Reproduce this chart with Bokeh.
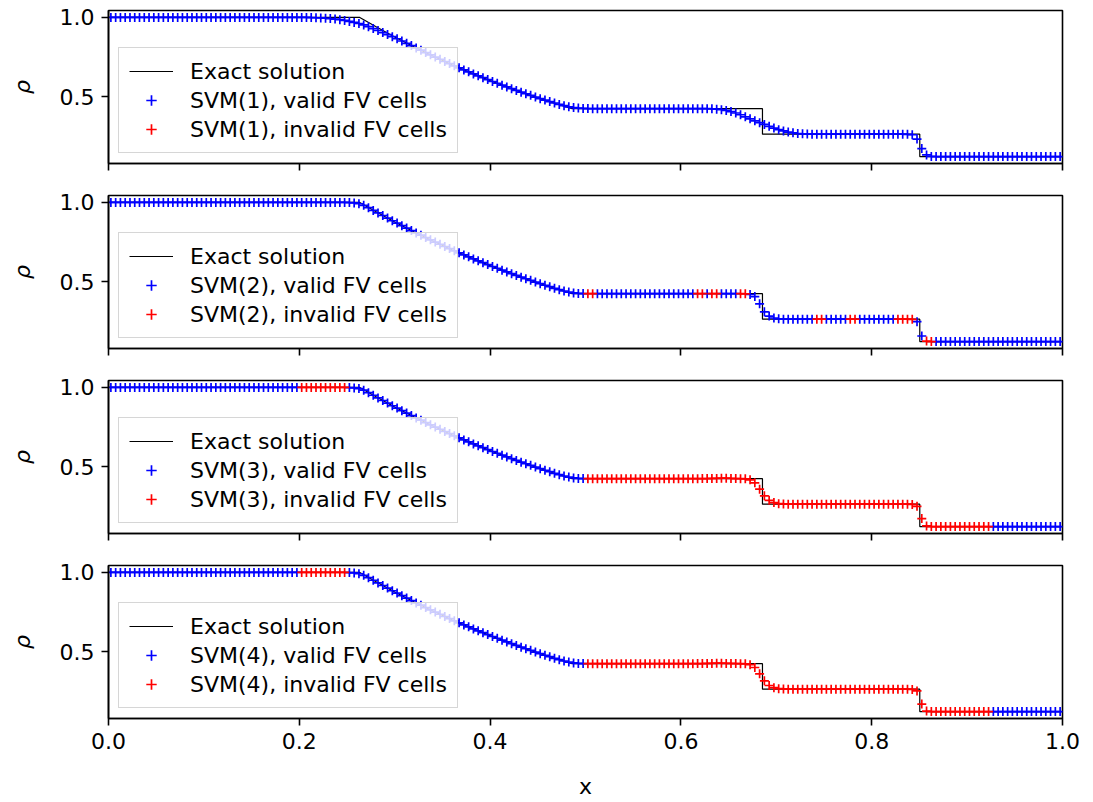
from bokeh.plotting import figure
from bokeh.models import Range1d, FixedTicker, Legend, LegendItem, ColumnDataSource
from bokeh.layouts import column
from bokeh.embed import file_html
from bokeh.resources import INLINE

# ---------------- data ----------------
CELL_X = [
    0.0025, 0.0075, 0.0125, 0.0175, 0.0225, 0.0275, 0.0325, 0.0375, 0.0425, 0.0475,
    0.0525, 0.0575, 0.0625, 0.0675, 0.0725, 0.0775, 0.0825, 0.0875, 0.0925, 0.0975,
    0.1025, 0.1075, 0.1125, 0.1175, 0.1225, 0.1275, 0.1325, 0.1375, 0.1425, 0.1475,
    0.1525, 0.1575, 0.1625, 0.1675, 0.1725, 0.1775, 0.1825, 0.1875, 0.1925, 0.1975,
    0.2025, 0.2075, 0.2125, 0.2175, 0.2225, 0.2275, 0.2325, 0.2375, 0.2425, 0.2475,
    0.2525, 0.2575, 0.2625, 0.2675, 0.2725, 0.2775, 0.2825, 0.2875, 0.2925, 0.2975,
    0.3025, 0.3075, 0.3125, 0.3175, 0.3225, 0.3275, 0.3325, 0.3375, 0.3425, 0.3475,
    0.3525, 0.3575, 0.3625, 0.3675, 0.3725, 0.3775, 0.3825, 0.3875, 0.3925, 0.3975,
    0.4025, 0.4075, 0.4125, 0.4175, 0.4225, 0.4275, 0.4325, 0.4375, 0.4425, 0.4475,
    0.4525, 0.4575, 0.4625, 0.4675, 0.4725, 0.4775, 0.4825, 0.4875, 0.4925, 0.4975,
    0.5025, 0.5075, 0.5125, 0.5175, 0.5225, 0.5275, 0.5325, 0.5375, 0.5425, 0.5475,
    0.5525, 0.5575, 0.5625, 0.5675, 0.5725, 0.5775, 0.5825, 0.5875, 0.5925, 0.5975,
    0.6025, 0.6075, 0.6125, 0.6175, 0.6225, 0.6275, 0.6325, 0.6375, 0.6425, 0.6475,
    0.6525, 0.6575, 0.6625, 0.6675, 0.6725, 0.6775, 0.6825, 0.6875, 0.6925, 0.6975,
    0.7025, 0.7075, 0.7125, 0.7175, 0.7225, 0.7275, 0.7325, 0.7375, 0.7425, 0.7475,
    0.7525, 0.7575, 0.7625, 0.7675, 0.7725, 0.7775, 0.7825, 0.7875, 0.7925, 0.7975,
    0.8025, 0.8075, 0.8125, 0.8175, 0.8225, 0.8275, 0.8325, 0.8375, 0.8425, 0.8475,
    0.8525, 0.8575, 0.8625, 0.8675, 0.8725, 0.8775, 0.8825, 0.8875, 0.8925, 0.8975,
    0.9025, 0.9075, 0.9125, 0.9175, 0.9225, 0.9275, 0.9325, 0.9375, 0.9425, 0.9475,
    0.9525, 0.9575, 0.9625, 0.9675, 0.9725, 0.9775, 0.9825, 0.9875, 0.9925, 0.9975,
]

RHO_SVM1 = [
    1.0, 1.0, 1.0, 1.0, 1.0, 1.0, 1.0, 1.0, 1.0, 1.0,
    1.0, 1.0, 1.0, 1.0, 1.0, 1.0, 1.0, 1.0, 1.0, 1.0,
    1.0, 1.0, 1.0, 1.0, 1.0, 1.0, 1.0, 1.0, 1.0, 1.0,
    1.0, 1.0, 1.0, 1.0, 1.0, 1.0, 1.0, 1.0, 1.0, 1.0,
    1.0, 1.0, 0.999, 0.998, 0.997, 0.995, 0.993, 0.990, 0.986, 0.981,
    0.975, 0.969, 0.962, 0.953, 0.942, 0.930, 0.918, 0.905, 0.892, 0.879,
    0.866, 0.852, 0.837, 0.823, 0.808, 0.794, 0.779, 0.765, 0.751, 0.737,
    0.723, 0.710, 0.696, 0.683, 0.670, 0.658, 0.645, 0.633, 0.621, 0.609,
    0.597, 0.586, 0.574, 0.563, 0.552, 0.541, 0.530, 0.520, 0.510, 0.499,
    0.489, 0.480, 0.471, 0.462, 0.453, 0.445, 0.438, 0.433, 0.430, 0.428,
    0.427, 0.426, 0.426, 0.426, 0.426, 0.426, 0.426, 0.426, 0.426, 0.426,
    0.426, 0.426, 0.426, 0.426, 0.426, 0.426, 0.426, 0.426, 0.426, 0.426,
    0.426, 0.426, 0.426, 0.426, 0.426, 0.426, 0.425, 0.423, 0.420, 0.415,
    0.408, 0.399, 0.388, 0.375, 0.362, 0.350, 0.338, 0.327, 0.315, 0.304,
    0.294, 0.286, 0.279, 0.274, 0.270, 0.268, 0.267, 0.266, 0.266, 0.266,
    0.266, 0.266, 0.266, 0.266, 0.266, 0.266, 0.266, 0.266, 0.266, 0.266,
    0.266, 0.266, 0.266, 0.266, 0.266, 0.266, 0.266, 0.265, 0.262, 0.235,
    0.175, 0.135, 0.126, 0.125, 0.125, 0.125, 0.125, 0.125, 0.125, 0.125,
    0.125, 0.125, 0.125, 0.125, 0.125, 0.125, 0.125, 0.125, 0.125, 0.125,
    0.125, 0.125, 0.125, 0.125, 0.125, 0.125, 0.125, 0.125, 0.125, 0.125,
]

RHO_SVM2 = [
    1.0, 1.0, 1.0, 1.0, 1.0, 1.0, 1.0, 1.0, 1.0, 1.0,
    1.0, 1.0, 1.0, 1.0, 1.0, 1.0, 1.0, 1.0, 1.0, 1.0,
    1.0, 1.0, 1.0, 1.0, 1.0, 1.0, 1.0, 1.0, 1.0, 1.0,
    1.0, 1.0, 1.0, 1.0, 1.0, 1.0, 1.0, 1.0, 1.0, 1.0,
    1.0, 1.0, 1.0, 1.0, 1.0, 1.0, 1.0, 1.0, 1.0, 1.0,
    0.999, 0.997, 0.992, 0.982, 0.967, 0.950, 0.934, 0.918, 0.902, 0.885,
    0.870, 0.854, 0.839, 0.823, 0.808, 0.794, 0.779, 0.765, 0.751, 0.737,
    0.723, 0.710, 0.696, 0.683, 0.670, 0.658, 0.645, 0.633, 0.621, 0.609,
    0.597, 0.586, 0.574, 0.563, 0.552, 0.541, 0.530, 0.520, 0.510, 0.499,
    0.489, 0.479, 0.470, 0.460, 0.451, 0.443, 0.436, 0.431, 0.428, 0.427,
    0.426, 0.426, 0.426, 0.426, 0.426, 0.426, 0.426, 0.426, 0.426, 0.426,
    0.426, 0.426, 0.426, 0.426, 0.426, 0.426, 0.426, 0.426, 0.426, 0.426,
    0.426, 0.426, 0.426, 0.426, 0.426, 0.426, 0.426, 0.426, 0.426, 0.426,
    0.426, 0.426, 0.426, 0.425, 0.421, 0.408, 0.362, 0.312, 0.285, 0.273,
    0.268, 0.266, 0.266, 0.266, 0.266, 0.266, 0.266, 0.266, 0.266, 0.266,
    0.266, 0.266, 0.266, 0.266, 0.266, 0.266, 0.266, 0.266, 0.266, 0.266,
    0.266, 0.266, 0.266, 0.266, 0.266, 0.266, 0.266, 0.266, 0.265, 0.250,
    0.160, 0.128, 0.125, 0.125, 0.125, 0.125, 0.125, 0.125, 0.125, 0.125,
    0.125, 0.125, 0.125, 0.125, 0.125, 0.125, 0.125, 0.125, 0.125, 0.125,
    0.125, 0.125, 0.125, 0.125, 0.125, 0.125, 0.125, 0.125, 0.125, 0.125,
]

RHO_SVM3 = [
    1.0, 1.0, 1.0, 1.0, 1.0, 1.0, 1.0, 1.0, 1.0, 1.0,
    1.0, 1.0, 1.0, 1.0, 1.0, 1.0, 1.0, 1.0, 1.0, 1.0,
    1.0, 1.0, 1.0, 1.0, 1.0, 1.0, 1.0, 1.0, 1.0, 1.0,
    1.0, 1.0, 1.0, 1.0, 1.0, 1.0, 1.0, 1.0, 1.0, 1.0,
    1.0, 1.0, 1.0, 1.0, 1.0, 1.0, 1.0, 1.0, 1.0, 1.0,
    0.999, 0.997, 0.993, 0.983, 0.967, 0.951, 0.934, 0.918, 0.902, 0.885,
    0.870, 0.854, 0.839, 0.823, 0.808, 0.794, 0.779, 0.765, 0.751, 0.737,
    0.723, 0.710, 0.696, 0.683, 0.670, 0.658, 0.645, 0.633, 0.621, 0.609,
    0.597, 0.586, 0.574, 0.563, 0.552, 0.541, 0.530, 0.520, 0.510, 0.499,
    0.489, 0.479, 0.470, 0.460, 0.451, 0.443, 0.436, 0.431, 0.428, 0.427,
    0.426, 0.426, 0.426, 0.426, 0.426, 0.426, 0.426, 0.426, 0.426, 0.426,
    0.426, 0.426, 0.426, 0.426, 0.426, 0.426, 0.426, 0.426, 0.426, 0.426,
    0.426, 0.426, 0.426, 0.426, 0.427, 0.427, 0.428, 0.428, 0.429, 0.429,
    0.428, 0.427, 0.426, 0.425, 0.419, 0.400, 0.360, 0.318, 0.290, 0.276,
    0.269, 0.267, 0.266, 0.266, 0.266, 0.266, 0.266, 0.266, 0.266, 0.266,
    0.266, 0.266, 0.266, 0.266, 0.266, 0.266, 0.266, 0.266, 0.266, 0.266,
    0.266, 0.266, 0.266, 0.266, 0.266, 0.266, 0.266, 0.266, 0.264, 0.252,
    0.175, 0.129, 0.125, 0.125, 0.125, 0.125, 0.125, 0.125, 0.125, 0.125,
    0.125, 0.125, 0.125, 0.125, 0.125, 0.125, 0.125, 0.125, 0.125, 0.125,
    0.125, 0.125, 0.125, 0.125, 0.125, 0.125, 0.125, 0.125, 0.125, 0.125,
]

RHO_SVM4 = [
    1.0, 1.0, 1.0, 1.0, 1.0, 1.0, 1.0, 1.0, 1.0, 1.0,
    1.0, 1.0, 1.0, 1.0, 1.0, 1.0, 1.0, 1.0, 1.0, 1.0,
    1.0, 1.0, 1.0, 1.0, 1.0, 1.0, 1.0, 1.0, 1.0, 1.0,
    1.0, 1.0, 1.0, 1.0, 1.0, 1.0, 1.0, 1.0, 1.0, 1.0,
    1.0, 1.0, 1.0, 1.0, 1.0, 1.0, 1.0, 1.0, 1.0, 1.0,
    0.999, 0.997, 0.992, 0.982, 0.967, 0.951, 0.934, 0.918, 0.902, 0.885,
    0.870, 0.854, 0.839, 0.823, 0.808, 0.794, 0.779, 0.765, 0.751, 0.737,
    0.723, 0.710, 0.696, 0.683, 0.670, 0.658, 0.645, 0.633, 0.621, 0.609,
    0.597, 0.586, 0.574, 0.563, 0.552, 0.541, 0.530, 0.520, 0.510, 0.499,
    0.489, 0.479, 0.470, 0.460, 0.451, 0.443, 0.436, 0.431, 0.428, 0.427,
    0.426, 0.426, 0.426, 0.426, 0.426, 0.426, 0.426, 0.426, 0.426, 0.426,
    0.426, 0.426, 0.426, 0.426, 0.426, 0.426, 0.426, 0.426, 0.426, 0.426,
    0.426, 0.426, 0.426, 0.427, 0.427, 0.428, 0.428, 0.429, 0.429, 0.428,
    0.428, 0.427, 0.426, 0.425, 0.420, 0.402, 0.362, 0.318, 0.289, 0.275,
    0.269, 0.267, 0.266, 0.266, 0.266, 0.266, 0.266, 0.266, 0.266, 0.266,
    0.266, 0.266, 0.266, 0.266, 0.266, 0.266, 0.266, 0.266, 0.266, 0.266,
    0.266, 0.266, 0.266, 0.266, 0.266, 0.266, 0.266, 0.266, 0.264, 0.255,
    0.172, 0.128, 0.125, 0.125, 0.125, 0.125, 0.125, 0.125, 0.125, 0.125,
    0.125, 0.125, 0.125, 0.125, 0.125, 0.125, 0.125, 0.125, 0.125, 0.125,
    0.125, 0.125, 0.125, 0.125, 0.125, 0.125, 0.125, 0.125, 0.125, 0.125,
]

# cell-index spans (inclusive) flagged as invalid FV cells
INVALID_SVM1 = []
INVALID_SVM2 = [(100, 101), (123, 124), (126, 127), (132, 133), (148, 149),
                (155, 156), (165, 168), (171, 172)]
INVALID_SVM3 = [(40, 49), (100, 184)]
INVALID_SVM4 = [(40, 49), (100, 184)]

# exact (Sod) solution polyline
EXACT_X = [0.0, 0.2634, 0.28, 0.30, 0.32, 0.34, 0.36, 0.38, 0.40, 0.42, 0.44,
           0.46, 0.48, 0.4859, 0.6855, 0.6855, 0.8504, 0.8504, 1.0]
EXACT_RHO = [1.0, 1.0, 0.9428, 0.8774, 0.8158, 0.7577, 0.7029, 0.6514, 0.6029,
             0.5574, 0.5146, 0.4745, 0.4370, 0.4263, 0.4263, 0.2656, 0.2656,
             0.125, 0.125]

X_TICKS = [0.0, 0.2, 0.4, 0.6, 0.8, 1.0]
X_TICK_LABELS = ["0.0", "0.2", "0.4", "0.6", "0.8", "1.0"]
Y_TICKS = [0.5, 1.0]
Y_TICK_LABELS = ["0.5", "1.0"]

PANELS = [
    ("1", RHO_SVM1, INVALID_SVM1),
    ("2", RHO_SVM2, INVALID_SVM2),
    ("3", RHO_SVM3, INVALID_SVM3),
    ("4", RHO_SVM4, INVALID_SVM4),
]

FONT = "DejaVu Sans"
NAN = float("nan")


def in_spans(i, spans):
    return any(a <= i <= b for a, b in spans)


def make_panel(order, rho, spans, top, bottom, last):
    p = figure(frame_width=954, frame_height=153,
               min_border_left=108, min_border_right=31,
               min_border_top=top, min_border_bottom=bottom,
               x_range=Range1d(0.0, 1.0), y_range=Range1d(0.08125, 1.04375),
               output_backend="svg", toolbar_location=None,
               background_fill_color="white", border_fill_color="white")
    p.grid.visible = False
    p.outline_line_color = "black"
    p.outline_line_width = 1.6
    p.outline_line_alpha = 1.0

    for ax in (p.xaxis[0], p.yaxis[0]):
        ax.axis_line_width = 1.6
        ax.axis_line_color = "black"
        ax.major_tick_line_width = 1.6
        ax.major_tick_line_color = "black"
        ax.major_tick_out = 7
        ax.major_tick_in = 0
        ax.minor_tick_out = 0
        ax.minor_tick_in = 0
        ax.major_label_text_font = FONT
        ax.major_label_text_font_size = "22px"
        ax.major_label_text_color = "black"
        ax.major_label_standoff = 7

    xa = p.xaxis[0]
    xa.ticker = FixedTicker(ticks=X_TICKS)
    if last:
        xa.major_label_overrides = {t: l for t, l in zip(X_TICKS, X_TICK_LABELS)}
        xa.axis_label = "x"
        xa.axis_label_text_font = FONT
        xa.axis_label_text_font_size = "22px"
        xa.axis_label_text_font_style = "normal"
        xa.axis_label_text_color = "black"
        xa.axis_label_standoff = 22
    else:
        # shared x axis: tick marks only, no tick labels
        xa.major_label_overrides = {t: "" for t in X_TICKS}
        xa.major_label_text_font_size = "1px"
        xa.major_label_standoff = 0

    ya = p.yaxis[0]
    ya.ticker = FixedTicker(ticks=Y_TICKS)
    ya.major_label_overrides = {t: l for t, l in zip(Y_TICKS, Y_TICK_LABELS)}
    ya.axis_label = "ρ"
    ya.axis_label_text_font = FONT
    ya.axis_label_text_font_size = "22px"
    ya.axis_label_text_font_style = "italic"
    ya.axis_label_text_color = "black"
    ya.axis_label_standoff = 22

    valid = dict(x=[], y=[])
    invalid = dict(x=[], y=[])
    for i, (xv, yv) in enumerate(zip(CELL_X, rho)):
        tgt = invalid if in_spans(i, spans) else valid
        tgt["x"].append(xv)
        tgt["y"].append(yv)
    # keep one (undrawn) entry so the legend swatch is always shown
    if not invalid["x"]:
        invalid = dict(x=[NAN], y=[NAN])

    r_line = p.line(EXACT_X, EXACT_RHO, line_color="black", line_width=1.2)
    r_valid = p.scatter("x", "y", source=ColumnDataSource(valid), marker="cross",
                        size=9, line_color="#0000ff", line_width=1.7)
    r_invalid = p.scatter("x", "y", source=ColumnDataSource(invalid), marker="cross",
                          size=9, line_color="#ff0000", line_width=1.7)

    legend = Legend(items=[
        LegendItem(label="Exact solution", renderers=[r_line]),
        LegendItem(label=f"SVM({order}), valid FV cells", renderers=[r_valid]),
        LegendItem(label=f"SVM({order}), invalid FV cells", renderers=[r_invalid]),
    ], location="bottom_left")
    legend.margin = 10
    legend.padding = 10
    legend.spacing = 3
    legend.label_height = 26
    legend.glyph_height = 26
    legend.glyph_width = 44
    legend.label_standoff = 17
    legend.label_text_font = FONT
    legend.label_text_font_size = "22px"
    legend.label_text_color = "black"
    legend.background_fill_color = "white"
    legend.background_fill_alpha = 0.8
    legend.border_line_color = "#cccccc"
    legend.border_line_width = 1.6
    legend.border_line_alpha = 0.8
    p.add_layout(legend)
    return p


figs = []
n = len(PANELS)
for k, (order, rho, spans) in enumerate(PANELS):
    top = 10 if k == 0 else 16
    bottom = 84 if k == n - 1 else 16
    figs.append(make_panel(order, rho, spans, top, bottom, k == n - 1))

layout = column(*figs, spacing=0)
open("out.html", "w").write(file_html(layout, INLINE))
